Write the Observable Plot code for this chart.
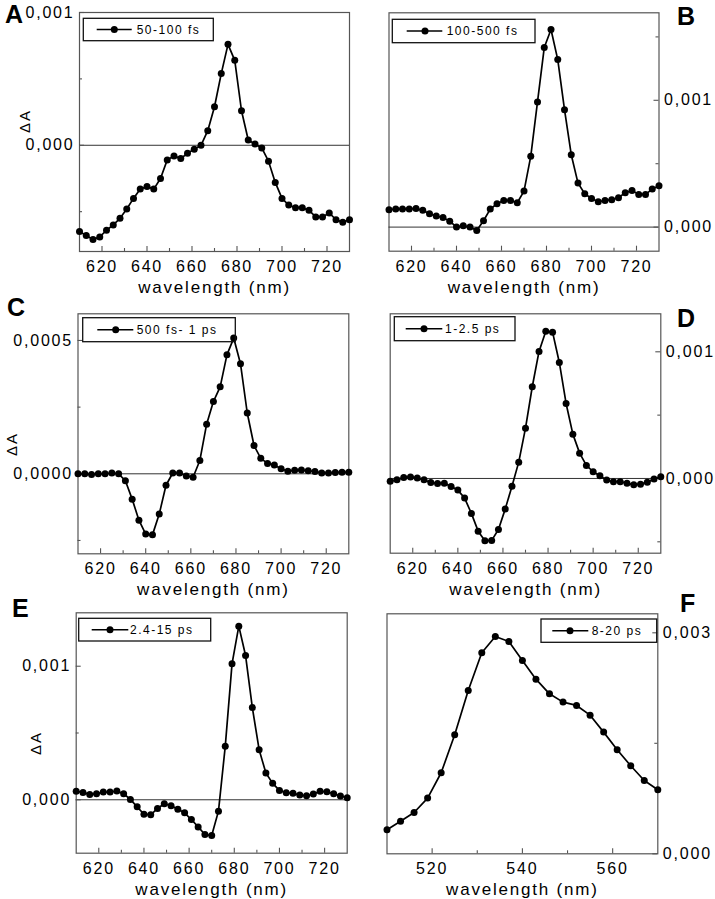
<!DOCTYPE html>
<html><head><meta charset="utf-8">
<script src="https://cdn.jsdelivr.net/npm/d3@7"></script>
<script src="https://cdn.jsdelivr.net/npm/@observablehq/plot@0.6"></script>
<style>
body{margin:0;background:#fff;}
#fig{position:relative;width:715px;height:899px;font-family:"Liberation Sans",Arial,sans-serif;}
#fig svg{position:absolute;left:0;top:0;}
</style></head><body><div id="fig"></div>
<script>
// ---- data ----
const wavelength = [610,613,616,619,622,625,628,631,634,637,640,643,646,649,652,655,658,661,664,667,670,673,676,679,682,685,688,691,694,697,700,703,706,709,712,715,718,721,724,727,730];
const wavelengthF = [510,513,516,519,522,525,528,531,534,537,540,543,546,549,552,555,558,561,564,567,570];

const dA_50_100fs = [-0.00065,-0.00068,-0.00071,-0.00069,-0.00064,-0.00060,-0.00055,-0.00048,-0.00040,-0.00033,-0.00031,-0.00033,-0.00025,-0.00011,-0.00008,-0.00010,-0.00006,-0.00003,0.00000,0.00011,0.00029,0.00054,0.00076,0.00064,0.00026,0.00004,0.00001,-0.00002,-0.00012,-0.00028,-0.00040,-0.00045,-0.00047,-0.00047,-0.00049,-0.00054,-0.00054,-0.00051,-0.00056,-0.00058,-0.00056];
const dA_100_500fs = [0.000137,0.000142,0.000142,0.000142,0.000147,0.000132,0.000105,0.000087,0.000076,0.000047,0.0,0.00001,0.0,-0.000026,0.00005,0.000142,0.000184,0.00021,0.00021,0.000192,0.000284,0.000558,0.000987,0.001416,0.001558,0.001321,0.000926,0.000571,0.000347,0.000263,0.000226,0.0002,0.00021,0.000216,0.000232,0.000271,0.000289,0.000258,0.000258,0.0003,0.000326];
const dA_500fs_1ps = [0,0,-0.000003,0,0,0.000003,0,-0.000026,-0.000095,-0.000174,-0.000226,-0.000229,-0.000151,-0.000043,0.000003,0.000003,-0.000008,-0.000013,0.00005,0.000186,0.000271,0.000326,0.000446,0.000509,0.000413,0.000228,0.000106,0.000058,0.000039,0.000033,0.000019,0.00001,0.000013,0.000014,0.000011,0.000009,0.000003,0.000003,0.000005,0.000006,0.000006];
const dA_1_2p5ps = [-0.000021,-0.000011,0.000008,0.000011,0.000003,-0.000011,-0.000032,-0.000039,-0.000037,-0.000063,-0.000092,-0.000155,-0.000276,-0.000416,-0.000492,-0.000489,-0.000403,-0.000242,-0.000061,0.000129,0.000397,0.000724,0.001003,0.001163,0.001155,0.000916,0.000592,0.00035,0.0002,0.000103,0.000053,0.000021,-0.000013,-0.000026,-0.000026,-0.000037,-0.00005,-0.000045,-0.000029,-0.000005,0.000013];
const dA_2p4_15ps = [0.000063,0.000055,0.00004,0.000045,0.000058,0.000058,0.000065,0.000045,0.000003,-0.000053,-0.000108,-0.000113,-0.000065,-0.00003,-0.000045,-0.00007,-0.000098,-0.000148,-0.000203,-0.00026,-0.000268,-0.000085,0.0004,0.001018,0.0013,0.00108,0.00069,0.000375,0.0002,0.000123,0.00007,0.000053,0.000048,0.000035,0.00003,0.000043,0.000063,0.00006,0.000045,0.000028,0.000015];
const dA_8_20ps = [0.000326,0.000443,0.000561,0.000756,0.0011,0.001615,0.002217,0.002729,0.00295,0.002882,0.002624,0.002371,0.002172,0.002059,0.002014,0.001882,0.001652,0.001412,0.001195,0.000995,0.000869];

const seriesLabels = ["50-100 fs","100-500 fs","500 fs- 1 ps","1-2.5 ps","2.4-15 ps","8-20 ps"];
const panelLetters = ["A","B","C","D","E","F"];
const xTicksMajor = [620,640,660,680,700,720];
const xTicksMinor = [630,650,670,690,710];
const xTicksMajorF = [520,540,560];
const xTicksMinorF = [530,550];

// ---- layout ----
const W = 715, H = 899;
const panels = [
  {x: wavelength, y: dA_50_100fs, xd:[610,730], yd:[-0.0008,0.001], yMaj:[0,0.001], yMin:[-0.0005,0.0005], fmt:".3f", side:"left", zero:true,
   frame:[79,12,349,251], letter:[5,23], dA:[25,121], leg:{box:[83.3,18.3,213.3,40.7], line:[96.7,131.7], dot:114.3, tx:136.7}},
  {x: wavelength, y: dA_100_500fs, xd:[610,730], yd:[-0.00019,0.00169], yMaj:[0,0.001], yMin:[0.0005,0.0015], fmt:".3f", side:"right", zero:true,
   frame:[388.5,12.3,658.5,250.7], letter:[677,25], dA:null, leg:{box:[392.3,19.3,535,42.7], line:[406.7,442.3], dot:425, tx:446.7}},
  {x: wavelength, y: dA_500fs_1ps, xd:[610,730], yd:[-0.0003,0.0006], yMaj:[0,0.0005], yMin:[-0.00025,0.00025], fmt:".4f", side:"left", zero:true,
   frame:[77.5,313.3,348.3,553.3], letter:[7,316], dA:[12,444], leg:{box:[82.7,317.7,235.3,341.7], line:[97.3,133.3], dot:115.7, tx:136.7}},
  {x: wavelength, y: dA_1_2p5ps, xd:[610,730], yd:[-0.00059,0.0013], yMaj:[0,0.001], yMin:[-0.0005,0.0005], fmt:".3f", side:"right", zero:true,
   frame:[389.7,313.3,660.3,552.7], letter:[677,327], dA:null, leg:{box:[394.3,316.7,515,340.7], line:[405.7,442.3], dot:424, tx:445}},
  {x: wavelength, y: dA_2p4_15ps, xd:[610,730], yd:[-0.0004,0.0014], yMaj:[0,0.001], yMin:[0.0005], fmt:".3f", side:"left", zero:true,
   frame:[75.7,612.3,346.7,852.7], letter:[12,617], dA:[36,743], leg:{box:[78.7,618.3,210.7,641], line:[91.7,128.3], dot:110, tx:130}},
  {x: wavelengthF, y: dA_8_20ps, xd:[510,570], yd:[0,0.003258], yMaj:[0,0.003], yMin:[0.0015], fmt:".3f", side:"right", zero:false, xMajF:true,
   frame:[386.5,613.3,657.3,853.3], letter:[680,612], dA:null, leg:{box:[541,619,656.7,642.3], line:[552.3,588.3], dot:570, tx:591.7}}
];

const fig = document.getElementById("fig");
const FONT = "Liberation Sans, Arial, Helvetica, sans-serif";

panels.forEach((p, i) => {
  const [fl, ft, fr, fb] = p.frame;
  const innerW = fr - fl, innerH = fb - ft;
  const data = p.x.map((x, j) => ({x, y: p.y[j]}));
  const fmt = d => d3.format(p.fmt)(d).replace(".", ",");
  const xMaj = p.xMajF ? xTicksMajorF : xTicksMajor;
  const xMin = p.xMajF ? xTicksMinorF : xTicksMinor;
  const insetKey = p.side === "left" ? "insetRight" : "insetLeft";
  const marks = [
    Plot.frame({stroke: "#555", strokeWidth: 1.2}),
    p.zero ? Plot.ruleY([0], {stroke: "#333", strokeWidth: 1}) : null,
    Plot.tickX(xMaj, {x: d => d, insetTop: innerH - 5, stroke: "#555", strokeWidth: 1.1}),
    Plot.tickX(xMin, {x: d => d, insetTop: innerH - 3, stroke: "#555", strokeWidth: 1.1}),
    Plot.tickY(p.yMaj, {y: d => d, [insetKey]: innerW - 5, stroke: "#555", strokeWidth: 1.1}),
    Plot.tickY(p.yMin, {y: d => d, [insetKey]: innerW - 3, stroke: "#555", strokeWidth: 1.1}),
    Plot.axisX(xMaj, {anchor: "bottom", tickSize: 0, tickPadding: 9, fontSize: 16, label: null, tickFormat: d => String(d)}),
    Plot.axisY(p.yMaj, {anchor: p.side, tickSize: 0, tickPadding: 5, fontSize: 16, label: null, tickFormat: fmt}),
    Plot.text(["wavelength (nm)"], {text: d => d, frameAnchor: "bottom", lineAnchor: "middle", dy: 36, fontSize: 17}),
    Plot.line(data, {x: "x", y: "y", stroke: "black", strokeWidth: 1.7}),
    Plot.dot(data, {x: "x", y: "y", r: 3.5, fill: "black", stroke: "none"})
  ];
  const svg = Plot.plot({
    width: W, height: H,
    marginLeft: fl, marginRight: W - fr, marginTop: ft, marginBottom: H - fb,
    x: {domain: p.xd},
    y: {domain: p.yd},
    style: {background: "transparent", overflow: "visible", fontFamily: FONT},
    marks
  });
  d3.select(svg).selectAll("text").attr("letter-spacing", "1.8");
  fig.appendChild(svg);
});

// overlay: panel letters, ΔA labels, legends
const ov = d3.create("svg").attr("width", W).attr("height", H).style("font-family", FONT).style("pointer-events", "none");
panels.forEach((p, i) => {
  ov.append("text").attr("x", p.letter[0]).attr("y", p.letter[1])
    .attr("font-size", 25).attr("font-weight", "bold").attr("letter-spacing", 1).text(panelLetters[i]);
  if (p.dA) {
    ov.append("text").attr("transform", `translate(${p.dA[0]},${p.dA[1]}) rotate(-90)`)
      .attr("text-anchor", "middle").attr("dy", "0.35em").attr("font-size", 15).attr("letter-spacing", 2).text("ΔA");
  }
  const L = p.leg;
  const g = ov.append("g");
  g.append("rect").attr("x", L.box[0]).attr("y", L.box[1]).attr("width", L.box[2] - L.box[0]).attr("height", L.box[3] - L.box[1])
    .attr("fill", "none").attr("stroke", "#111").attr("stroke-width", 1.3);
  const cy = (L.box[1] + L.box[3]) / 2;
  g.append("line").attr("x1", L.line[0]).attr("x2", L.line[1]).attr("y1", cy).attr("y2", cy).attr("stroke", "black").attr("stroke-width", 1.5);
  g.append("circle").attr("cx", L.dot).attr("cy", cy).attr("r", 3.5).attr("fill", "black");
  g.append("text").attr("x", L.tx).attr("y", cy).attr("dy", "0.35em").attr("font-size", 12).attr("letter-spacing", 1.5).text(seriesLabels[i]);
});
fig.appendChild(ov.node());
</script></body></html>
